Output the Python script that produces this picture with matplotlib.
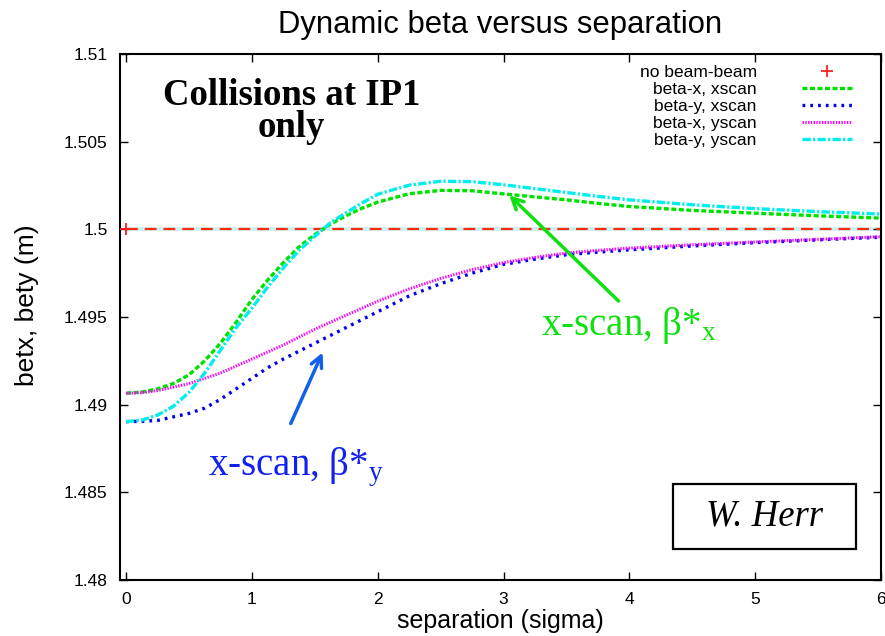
import numpy as np
import matplotlib
matplotlib.use('Agg')
import matplotlib.pyplot as plt
from matplotlib.patches import Rectangle

plt.rcParams['font.family'] = ['Liberation Sans', 'DejaVu Sans']
plt.rcParams['mathtext.fontset'] = 'custom'
plt.rcParams['mathtext.rm'] = 'Liberation Serif'
plt.rcParams['mathtext.it'] = 'Liberation Serif:italic'
plt.rcParams['lines.scale_dashes'] = False

# separation in sigma
sep = [0, 0.125, 0.25, 0.375, 0.5, 0.625, 0.75, 0.875, 1.0, 1.125, 1.25, 1.375,
       1.5, 1.625, 1.75, 1.875, 2.0, 2.25, 2.5, 2.75, 3.0, 3.25, 3.5, 3.75,
       4.0, 4.5, 5.0, 5.5, 6.0]

betx_xscan = [1.49065, 1.49072, 1.4909, 1.4912, 1.4917, 1.4925, 1.4935, 1.4947,
              1.4960, 1.4971, 1.4981, 1.4990, 1.49970, 1.5003, 1.50078, 1.5012,
              1.50155, 1.50203, 1.50222, 1.5022, 1.50202, 1.50185, 1.50168, 1.50148,
              1.5013, 1.50108, 1.50092, 1.50077, 1.50064]
bety_xscan = [1.48903, 1.48905, 1.4891, 1.4893, 1.4895, 1.4898, 1.4903, 1.4909,
              1.4915, 1.4921, 1.4926, 1.49305, 1.4935, 1.49395, 1.4944, 1.49485,
              1.4953, 1.4962, 1.4969, 1.4975, 1.4980, 1.4983, 1.49855, 1.4987,
              1.49883, 1.49905, 1.49924, 1.4994, 1.49955]
betx_yscan = [1.49065, 1.49068, 1.4908, 1.4910, 1.4912, 1.4915, 1.4918, 1.4922,
              1.4926, 1.4930, 1.4934, 1.49385, 1.4943, 1.4947, 1.4951, 1.4955,
              1.4959, 1.4966, 1.4972, 1.4977, 1.4981, 1.4984, 1.49865, 1.4988,
              1.49893, 1.49912, 1.49928, 1.49943, 1.49958]
bety_yscan = [1.48903, 1.48912, 1.4894, 1.4899, 1.4907, 1.4918, 1.4931, 1.4944,
              1.4955, 1.4967, 1.4978, 1.4988, 1.4996, 1.50038, 1.50095, 1.5015,
              1.5020, 1.50252, 1.50274, 1.50272, 1.50254, 1.50232, 1.5021, 1.50188,
              1.50168, 1.50140, 1.50118, 1.50101, 1.50087]

nobb_x = [0]
nobb_y = [1.5]
ref_line = [1.5, 1.5]

xticks = [0, 1, 2, 3, 4, 5, 6]
yticks = [1.48, 1.485, 1.49, 1.495, 1.5, 1.505, 1.51]
ytick_labels = ['1.48', '1.485', '1.49', '1.495', '1.5', '1.505', '1.51']

fig = plt.figure(figsize=(8.85, 6.36), dpi=100)
ax = fig.add_axes([0.1356, 0.0881, 0.8599, 0.827])

# reference line at nominal beta
ax.plot([0, 6], ref_line, color='#c8f0f0', lw=2.6, zorder=1)
ax.plot([0, 6], ref_line, color='#ff2a10', lw=1.6, dashes=(8.5, 5), zorder=2)

ax.plot(nobb_x, nobb_y, '+', color='#ff2020', ms=8, mew=1.3, label='no beam-beam', zorder=5)
ax.plot(sep, betx_xscan, color='#00e000', lw=2.4, dashes=(3.6, 1.8), label='beta-x, xscan', zorder=3)
ax.plot(sep, bety_xscan, color='#0000ee', lw=2.4, dashes=(2.0, 3.6), label='beta-y, xscan', zorder=3)
ax.plot(sep, betx_yscan, color='#ff00ff', lw=2.2, dashes=(1.0, 1.0), label='beta-x, yscan', zorder=3)
ax.plot(sep, bety_yscan, color='#00eeee', lw=2.4, dashes=(6, 1.6, 1.6, 1.6), label='beta-y, yscan', zorder=3)

ax.set_xlim(-0.048, 6)
ax.set_ylim(1.48, 1.51)
ax.set_xticks(xticks)
ax.set_yticks(yticks)
ax.set_yticklabels(ytick_labels)
ax.tick_params(direction='in', length=6, width=1, labelsize=12.5, pad=9,
               top=True, right=True)
for s in ax.spines.values():
    s.set_linewidth(1.5)

ax.set_title('Dynamic beta versus separation', fontsize=22.3, pad=15)
ax.set_xlabel('separation (sigma)', fontsize=18, labelpad=1)
ax.set_ylabel('betx, bety (m)', fontsize=19)
ax.yaxis.set_label_coords(-0.107, 0.523)

ax.legend(loc='upper right', bbox_to_anchor=(0.9737, 0.995), frameon=False,
          markerfirst=False, fontsize=12.5, handlelength=2.9, handletextpad=2.6,
          labelspacing=0.1, borderpad=0)

ax.text(1.314, 1.50527, 'Collisions at IP1\nonly', family='Liberation Serif',
        fontweight='bold', fontsize=26.5, ha='center', va='baseline',
        linespacing=0.87)

ax.annotate('', xy=(3.03, 1.50205), xytext=(3.93, 1.4958),
            arrowprops=dict(arrowstyle='->,head_length=0.8,head_width=0.4',
                            color='#10e010', lw=2.5))
ax.text(3.30, 1.49397, r'x-scan, β*$_\mathrm{x}$', color='#10e010',
        family='Liberation Serif', fontsize=28, ha='left', va='baseline')

ax.annotate('', xy=(1.571, 1.49312), xytext=(1.30, 1.48878),
            arrowprops=dict(arrowstyle='->,head_length=0.8,head_width=0.4',
                            color='#1060e8', lw=2.5))
ax.text(0.65, 1.48599, r'x-scan, β*$_\mathrm{y}$', color='#1020f0',
        family='Liberation Serif', fontsize=28, ha='left', va='baseline')

ax.add_patch(Rectangle((0.726, 0.0595), 0.241, 0.123, transform=ax.transAxes,
                       fill=False, lw=1.6, edgecolor='black', zorder=6))
ax.text(0.8465, 0.121, 'W. Herr', transform=ax.transAxes, family='Liberation Serif',
        style='italic', fontsize=26.5, ha='center', va='center')

fig.savefig('out.png', dpi=100)
